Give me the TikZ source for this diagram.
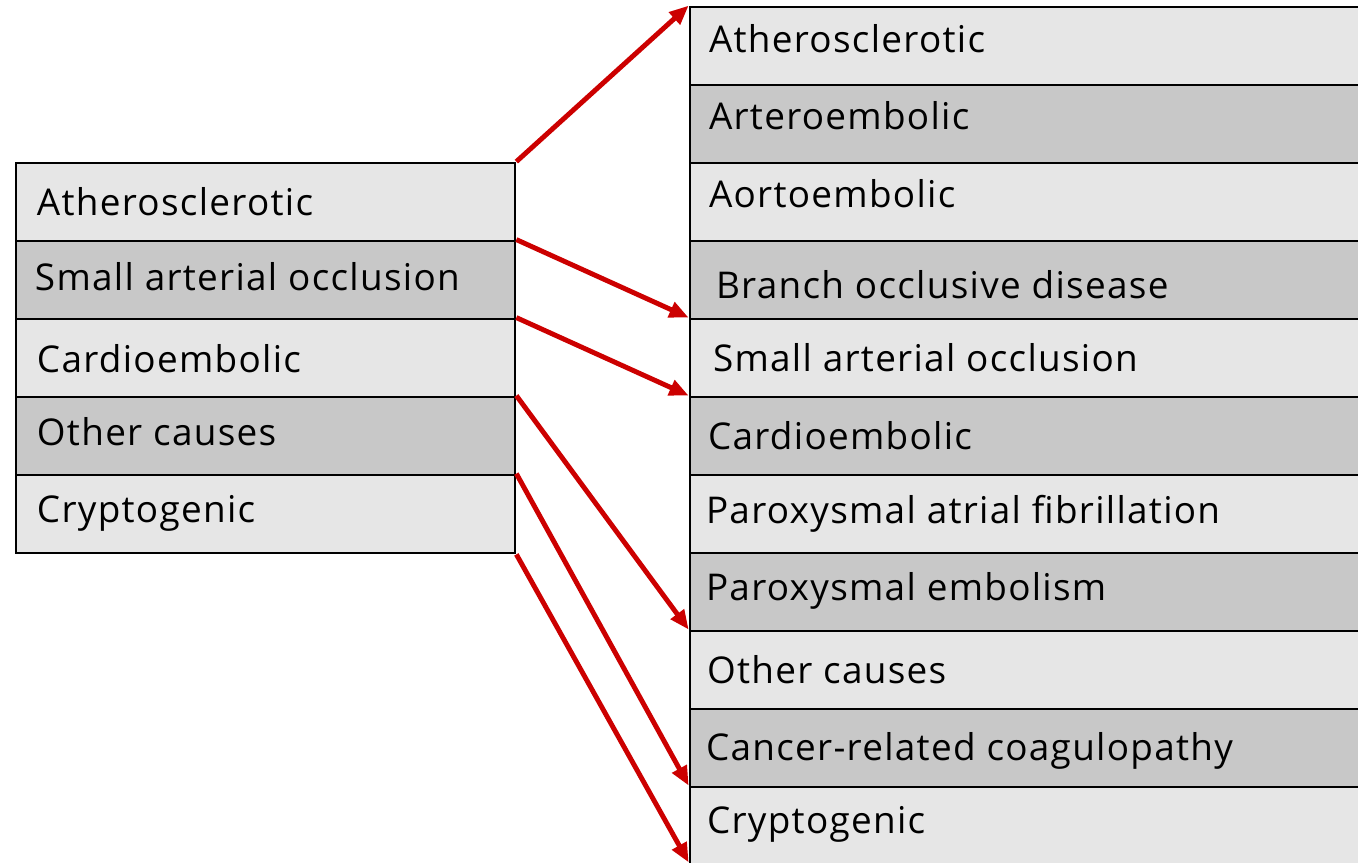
\documentclass[tikz,border=0pt]{standalone}
\usepackage{fontspec}
\setmainfont[LetterSpace=3.5]{Open Sans}
\usetikzlibrary{arrows.meta}
\definecolor{rowlight}{HTML}{E6E6E6}
\definecolor{rowdark}{HTML}{C8C8C8}
\definecolor{linkred}{HTML}{CC0000}

\begin{document}
\begin{tikzpicture}[x=0.02cm, y=-0.02cm,
  row/.style={draw=black, line width=1.6pt, minimum height=1.56cm, inner sep=0pt},
  leftrow/.style={row, minimum width=9.98cm},
  rightrow/.style={row, minimum width=13.6cm},
  rowtext/.style={anchor=base west, inner sep=0pt, font=\fontsize{21}{25}\selectfont},
  link/.style={draw=linkred, line width=2.8pt, -{Triangle[length=11pt, width=9pt]}}]
  \useasboundingbox (0,0) rectangle (1358,862);
  \clip (0,0) rectangle (1358,862);
  % left table
  \foreach \dx/\b/\txt [count=\i] in {22/13/Atherosclerotic, 20/10/Small arterial occlusion,
      22/14/Cardioembolic, 22/9/Other causes, 22/8/Cryptogenic}{
    \ifodd\i \def\rowfill{rowlight}\else \def\rowfill{rowdark}\fi
    \node[leftrow, fill=\rowfill] (l\i) at (265.5, 202+78*\i-78) {};
    \node[rowtext] (lt\i) at ([shift={(\dx,\b)}]l\i.west) {\txt};
  }
  % right table
  \foreach \dx/\b/\txt [count=\j] in {20/6/Atherosclerotic, 20/5/Arteroembolic,
      20/5/Aortoembolic, 27/18/Branch occlusive disease, 24/13/Small arterial occlusion,
      19/13/Cardioembolic, 17/9/Paroxysmal atrial fibrillation, 17/8/Paroxysmal embolism,
      18/13/Other causes, 17/12/Cancer-related coagulopathy, 18/7/Cryptogenic}{
    \ifodd\j \def\rowfill{rowlight}\else \def\rowfill{rowdark}\fi
    \node[rightrow, fill=\rowfill] (r\j) at (1030, 46+78*\j-78) {};
    \node[rowtext] (rt\j) at ([shift={(\dx,\b)}]r\j.west) {\txt};
  }
  % arrows
  \draw[link] (l1.north east) -- (r1.north west);
  \draw[link] (l2.north east) -- (r5.north west);
  \draw[link] (l3.north east) -- (r6.north west);
  \draw[link] (l4.north east) -- (r9.north west);
  \draw[link] (l5.north east) -- (r11.north west);
  \draw[link] (l5.south east) -- ([yshift=0.08cm]r11.south west);
\end{tikzpicture}
\end{document}
